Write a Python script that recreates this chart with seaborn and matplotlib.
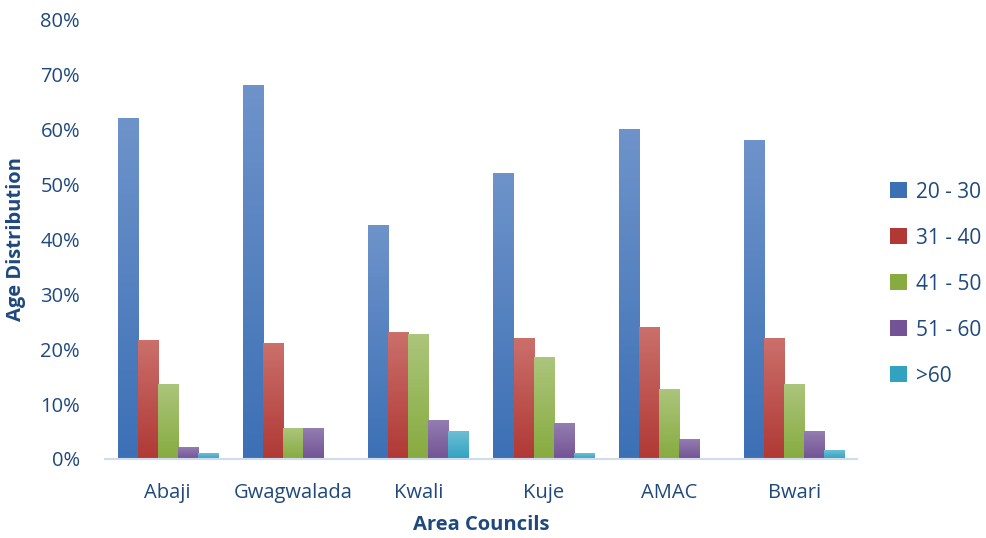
import numpy as np
import pandas as pd
import matplotlib
matplotlib.use("Agg")
import matplotlib.pyplot as plt
import matplotlib.colors as mcolors
from matplotlib.patches import Patch
import seaborn as sns

# datos (en %)
councils = ["Abaji", "Gwagwalada", "Kwali", "Kuje", "AMAC", "Bwari"]
age_groups = ["20 - 30", "31 - 40", "41 - 50", "51 - 60", ">60"]
g20_30 = [62, 68, 42.6, 52, 60, 58]
g31_40 = [21.6, 21, 23, 22, 24, 22]
g41_50 = [13.6, 5.6, 22.6, 18.5, 12.6, 13.6]
g51_60 = [2.1, 5.6, 7, 6.5, 3.5, 5]
g60_plus = [1, 0, 5, 1, 0, 1.5]

tops = ["#6E93CA", "#CB6F6B", "#ABC57B", "#937DB1", "#6DBED5"]
bottoms = ["#3C70B5", "#B03935", "#87AB40", "#735395", "#31A2C0"]
text_col = "#1F497D"

df = pd.DataFrame({
    "council": councils * 5,
    "age": sum([[a] * len(councils) for a in age_groups], []),
    "value": g20_30 + g31_40 + g41_50 + g51_60 + g60_plus,
})

sns.set_style("white")
plt.rcParams["font.family"] = ["Open Sans", "DejaVu Sans"]

fig = plt.figure(figsize=(9.86, 5.38), dpi=100)
ax = fig.add_axes([0.1065, 0.147, 0.7625, 0.816])

sns.barplot(data=df, x="council", y="value", hue="age", order=councils,
            hue_order=age_groups, palette=bottoms, width=0.8, ax=ax,
            edgecolor="none", linewidth=0, errorbar=None)
ax.get_legend().remove()

# degradado vertical en cada barra
for i, bar in enumerate(ax.patches[:len(councils) * len(age_groups)]):
    h = bar.get_height()
    if h <= 0:
        continue
    k = i // len(councils)
    c_top = np.array(mcolors.to_rgb(tops[k]))
    c_bot = np.array(mcolors.to_rgb(bottoms[k]))
    t = np.linspace(0, 1, 64)[:, None]
    grad = (c_top * (1 - t) + c_bot * t)[:, None, :]
    bar.set_facecolor("none")
    ax.imshow(grad, extent=[bar.get_x(), bar.get_x() + bar.get_width(), 0, h],
              aspect="auto", origin="upper", zorder=2, interpolation="bilinear")

ax.set_xlim(-0.5, len(councils) - 0.5)
ax.set_ylim(0, 80)
ax.set_aspect("auto")

ax.set_yticks(range(0, 81, 10))
ax.set_yticklabels([f"{v}%" for v in range(0, 81, 10)])
ax.set_xticks(np.arange(-0.5, len(councils), 1), minor=True)
ax.tick_params(axis="x", which="minor", length=6, color="#D0DCEE", width=1.5)
ax.tick_params(axis="x", which="major", length=0, pad=17)
ax.tick_params(axis="y", length=0, pad=18)
for lab in ax.get_xticklabels() + ax.get_yticklabels():
    lab.set_color(text_col)
    lab.set_fontsize(14.5)

for s in ["top", "right", "left"]:
    ax.spines[s].set_visible(False)
ax.spines["bottom"].set_color("#D0DCEE")
ax.spines["bottom"].set_linewidth(1.5)

ax.set_xlabel("Area Councils", fontsize=14.5, fontweight="bold", color=text_col, labelpad=9)
ax.set_ylabel("Age Distribution", fontsize=14.5, fontweight="bold", color=text_col, labelpad=10)

handles = [Patch(facecolor=bottoms[k], edgecolor="none") for k in range(len(age_groups))]
fig.legend(handles, age_groups, loc="center left", bbox_to_anchor=(0.903, 0.472),
           frameon=False, fontsize=15, labelcolor=text_col, handlelength=0.78,
           handleheight=0.78, handletextpad=0.45, labelspacing=1.2,
           borderaxespad=0, borderpad=0)

plt.savefig("out.png", dpi=100)
